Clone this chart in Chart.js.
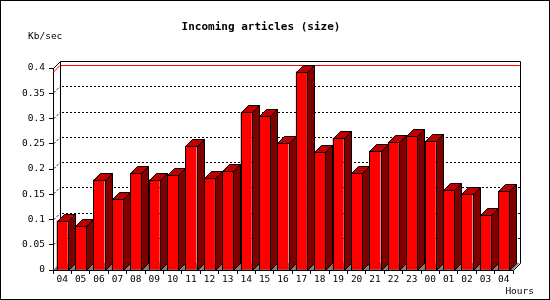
<!DOCTYPE html>
<html>
<head>
<meta charset="utf-8">
<script src="https://cdn.jsdelivr.net/npm/chart.js@4"></script>
<style>
  html, body { margin: 0; padding: 0; background: #fff; }
  canvas { display: block; }
</style>
</head>
<body>
<canvas id="chart" width="550" height="300"></canvas>
<script>
// hours of the day (x categories)
const hours = ['04', '05', '06', '07', '08', '09', '10', '11', '12', '13', '14', '15',
  '16', '17', '18', '19', '20', '21', '22', '23', '00', '01', '02', '03', '04'];
// incoming size, Kb/sec
const kbPerSec = [0.098, 0.088, 0.179, 0.141, 0.192, 0.179, 0.189, 0.246, 0.183, 0.196, 0.313, 0.305,
  0.252, 0.393, 0.234, 0.261, 0.192, 0.236, 0.254, 0.265, 0.256, 0.159, 0.151, 0.108, 0.157];
// y axis ticks
const yTicks = [0, 0.05, 0.1, 0.15, 0.2, 0.25, 0.3, 0.35, 0.4];

const title = 'Incoming articles (size)';
const yTitle = 'Kb/sec';
const xTitle = 'Hours';

const DEPTH = 7;
const MONO = '"DejaVu Sans Mono", "Liberation Mono", monospace';

// draws the 3d box (floor, back wall, grid) and the tops/sides of the bars
const box3d = {
  id: 'box3d',
  beforeDatasetsDraw(chart) {
    const { ctx, chartArea: a, scales: { y } } = chart;
    const d = DEPTH;
    ctx.save();
    ctx.lineWidth = 1;

    // floor
    ctx.fillStyle = '#808080';
    ctx.beginPath();
    ctx.moveTo(a.left, a.bottom);
    ctx.lineTo(a.right, a.bottom);
    ctx.lineTo(a.right + d, a.bottom - d);
    ctx.lineTo(a.left + d, a.bottom - d);
    ctx.closePath();
    ctx.fill();

    // dotted grid on back wall + left wall
    ctx.strokeStyle = '#000';
    ctx.setLineDash([2, 2]);
    yTicks.forEach(v => {
      if (v === 0 || v === yTicks[yTicks.length - 1]) return;
      const py = Math.round(y.getPixelForValue(v)) + 0.5;
      ctx.beginPath();
      ctx.moveTo(a.left + d + 2, py - d);
      ctx.lineTo(a.right + d, py - d);
      ctx.stroke();
      ctx.beginPath();
      ctx.moveTo(a.left + 1, py - 1);
      ctx.lineTo(a.left + d, py - d);
      ctx.stroke();
    });
    ctx.setLineDash([]);

    // max line in red
    const max = Math.max(...kbPerSec);
    const my = Math.round(y.getPixelForValue(max)) + 0.5;
    ctx.strokeStyle = '#ff0000';
    ctx.beginPath();
    ctx.moveTo(a.left, my);
    ctx.lineTo(a.left + d, my - d);
    ctx.lineTo(a.right + d, my - d);
    ctx.stroke();

    // back wall frame
    const l = Math.round(a.left) + 0.5, r = Math.round(a.right) + 0.5;
    const t = Math.round(a.top) + 0.5, b = Math.round(a.bottom) + 0.5;
    ctx.strokeStyle = '#000';
    ctx.beginPath();
    ctx.moveTo(l, t);
    ctx.lineTo(l + d, t - d);
    ctx.lineTo(r + d, t - d);
    ctx.lineTo(r + d, b - d);
    ctx.lineTo(r, b);
    ctx.moveTo(l + d, t - d);
    ctx.lineTo(l + d, b - d);
    ctx.stroke();
    ctx.restore();
  },
  afterDatasetsDraw(chart) {
    const { ctx } = chart;
    const d = DEPTH;
    ctx.save();
    ctx.lineWidth = 1;
    ctx.strokeStyle = '#000';
    chart.getDatasetMeta(0).data.forEach(bar => {
      const x0 = Math.round(bar.x - bar.width / 2) + 0.5;
      const x1 = Math.round(bar.x + bar.width / 2) + 0.5;
      const top = Math.round(bar.y) + 0.5;
      const base = Math.round(bar.base) + 0.5;
      // top face
      ctx.fillStyle = '#c00000';
      ctx.beginPath();
      ctx.moveTo(x0, top);
      ctx.lineTo(x0 + d, top - d);
      ctx.lineTo(x1 + d, top - d);
      ctx.lineTo(x1, top);
      ctx.closePath();
      ctx.fill();
      ctx.stroke();
      // side face
      ctx.fillStyle = '#800000';
      ctx.beginPath();
      ctx.moveTo(x1, top);
      ctx.lineTo(x1 + d, top - d);
      ctx.lineTo(x1 + d, base - d);
      ctx.lineTo(x1, base);
      ctx.closePath();
      ctx.fill();
      ctx.stroke();
      // front outline
      ctx.strokeRect(x0, top, x1 - x0, base - top);
    });
    ctx.restore();
  },
  afterDraw(chart) {
    const { ctx, width, height } = chart;
    ctx.save();
    ctx.fillStyle = '#000';
    ctx.textBaseline = 'middle';
    ctx.font = 'bold 11px ' + MONO;
    ctx.textAlign = 'center';
    ctx.fillText(title, 261, 27);
    ctx.font = '9.5px ' + MONO;
    ctx.textAlign = 'left';
    ctx.fillText(yTitle, 28, 37);
    ctx.textAlign = 'right';
    ctx.fillText(xTitle, 534, 292);
    // outer frame
    ctx.strokeStyle = '#000';
    ctx.lineWidth = 1;
    ctx.strokeRect(0.5, 0.5, width - 1, height - 1);
    ctx.restore();
  }
};

Chart.defaults.color = '#000';
Chart.defaults.font.family = MONO;
Chart.defaults.font.size = 9.5;

new Chart(document.getElementById('chart'), {
  type: 'bar',
  data: {
    labels: hours,
    datasets: [{
      data: kbPerSec,
      backgroundColor: '#ff0000',
      borderWidth: 0,
      barPercentage: 0.6,
      categoryPercentage: 1
    }]
  },
  options: {
    responsive: false,
    animation: false,
    layout: { padding: { left: 0, right: 37, top: 68, bottom: 0 } },
    plugins: {
      legend: { display: false },
      title: { display: false },
      tooltip: { enabled: false }
    },
    scales: {
      x: {
        offset: true,
        grid: { offset: true, drawOnChartArea: false, tickLength: 4, color: '#000' },
        border: { color: '#000' },
        ticks: { maxRotation: 0, autoSkip: false, padding: 0 },
        afterFit: s => { s.height = 30; }
      },
      y: {
        min: 0,
        max: 0.4,
        afterBuildTicks: s => { s.ticks = yTicks.map(v => ({ value: v })); },
        grid: { drawOnChartArea: false, tickLength: 4, color: '#000' },
        border: { color: '#000' },
        ticks: { padding: 4, callback: v => String(+v.toFixed(2)) },
        afterFit: s => { s.width = 53; }
      }
    }
  },
  plugins: [box3d]
});
</script>
</body>
</html>
